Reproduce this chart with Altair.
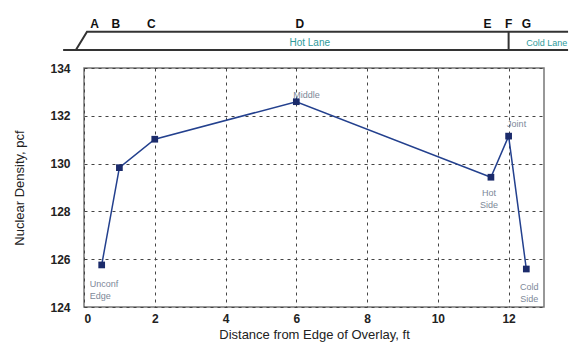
import altair as alt
import pandas as pd

# ---- data ----
distance = [0.5, 1, 2, 6, 11.5, 12, 12.5]
density = [125.76, 129.83, 131.02, 132.59, 129.43, 131.15, 125.59]

ann_point = [0, 3, 4, 5, 6]
ann_text = ["Unconf\nEdge", "Middle", "Hot\nSide", "Joint", "Cold\nSide"]

letters = ["A", "B", "C", "D", "E", "F", "G"]
letter_x = [0.3, 0.9, 1.9, 6.1, 11.4, 12.0, 12.5]
letter_y = 135.67

lane_names = ["Hot Lane", "Cold Lane"]
lane_x = [6.38, 12.5]
lane_y = 135.05

# schematic strip above the plot, in chart units
strip_top = 135.52
strip_bottom = 134.75
strip_start = -0.59
ramp_start = -0.23
ramp_end = 0.085
strip_end = 13.68
divider_x = 12.0

xs = alt.Scale(domain=[0, 13], nice=False)
ys = alt.Scale(domain=[124, 134], nice=False)
FONT = "Liberation Sans"

pts = pd.DataFrame({"d": distance, "n": density})

xaxis = alt.Axis(values=[0, 2, 4, 6, 8, 10, 12], grid=True, gridDash=[3, 4],
                 gridColor="#444", gridWidth=1, ticks=False, tickSize=0, domain=False,
                 labelFont=FONT, labelFontSize=12, labelFontWeight="bold", labelColor="#222",
                 labelPadding=6,
                 titleFont=FONT, titleFontSize=13, titleFontWeight="normal", titleColor="#222",
                 titleBaseline="alphabetic", titleY=31)
yaxis = alt.Axis(values=[124, 126, 128, 130, 132, 134], grid=True, gridDash=[3, 4],
                 gridColor="#444", gridWidth=1, ticks=False, tickSize=0, domain=False,
                 labelFont=FONT, labelFontSize=12, labelFontWeight="bold", labelColor="#222",
                 labelPadding=14,
                 titleFont=FONT, titleFontSize=13, titleFontWeight="normal", titleColor="#222",
                 titleBaseline="middle", titleX=-65)

XT = "Distance from Edge of Overlay, ft"
YT = "Nuclear Density, pcf"


def enc_x():
    return alt.X("d:Q", scale=xs, title=XT)


def enc_y():
    return alt.Y("n:Q", scale=ys, title=YT)


line = alt.Chart(pts).mark_line(color="#23408e", strokeWidth=1.5).encode(
    x=alt.X("d:Q", scale=xs, axis=xaxis, title=XT),
    y=alt.Y("n:Q", scale=ys, axis=yaxis, title=YT),
)
marks = alt.Chart(pts).mark_point(shape="square", filled=True, size=45,
                                  color="#1b2b6b", opacity=1).encode(x=enc_x(), y=enc_y())

# annotation offsets (style only)
offsets = {
    "Unconf\nEdge": dict(align="left", dx=-12, dy=19),
    "Middle": dict(align="left", dx=-3, dy=-7),
    "Hot\nSide": dict(align="center", dx=-2, dy=16),
    "Joint": dict(align="center", dx=8, dy=-12),
    "Cold\nSide": dict(align="center", dx=3, dy=18),
}
ann_layers = []
for i, t in zip(ann_point, ann_text):
    df = pd.DataFrame({"d": [distance[i]], "n": [density[i]], "t": [t]})
    o = offsets[t]
    ann_layers.append(
        alt.Chart(df).mark_text(font=FONT, fontSize=9, color="#7d8898", baseline="middle",
                                lineBreak="\n", lineHeight=12, **o).encode(
            x=enc_x(), y=enc_y(), text="t:N"))

# schematic lines
seg = pd.DataFrame({
    "d": [strip_start, strip_end, ramp_start, ramp_end, strip_end, divider_x, divider_x],
    "n": [strip_bottom, strip_bottom, strip_bottom, strip_top, strip_top, strip_bottom, strip_top],
    "g": ["low", "low", "up", "up", "up", "div", "div"],
    "o": [0, 1, 0, 1, 2, 0, 1],
})
strip = alt.Chart(seg).mark_line(color="#333", strokeWidth=2).encode(
    x=enc_x(), y=enc_y(), detail="g:N", order="o:Q")

lt = pd.DataFrame({"d": letter_x, "t": letters, "n": [letter_y] * len(letters)})
letter_text = alt.Chart(lt).mark_text(font=FONT, fontSize=12, fontWeight="bold", color="#111",
                                      baseline="alphabetic").encode(
    x=enc_x(), y=enc_y(), text="t:N")

ln = pd.DataFrame({"d": lane_x, "t": lane_names, "n": [lane_y] * 2})
lane_hot = alt.Chart(ln.iloc[[0]]).mark_text(font=FONT, fontSize=10, color="#2e9b9b",
                                             baseline="middle", align="center").encode(
    x=enc_x(), y=enc_y(), text="t:N")
lane_cold = alt.Chart(ln.iloc[[1]]).mark_text(font=FONT, fontSize=9, color="#2e9b9b",
                                              baseline="middle", align="left").encode(
    x=enc_x(), y=enc_y(), text="t:N")

chart = alt.layer(line, marks, *ann_layers, strip, letter_text, lane_hot, lane_cold).properties(
    width=460, height=239,
    autosize=alt.AutoSizeParams(type="none"),
    padding={"left": 76, "top": 60, "right": 27, "bottom": 36},
    background="white",
).configure_view(stroke="#777", strokeWidth=1.5)

chart.save("out.html", embed_options={"renderer": "svg", "actions": False})
